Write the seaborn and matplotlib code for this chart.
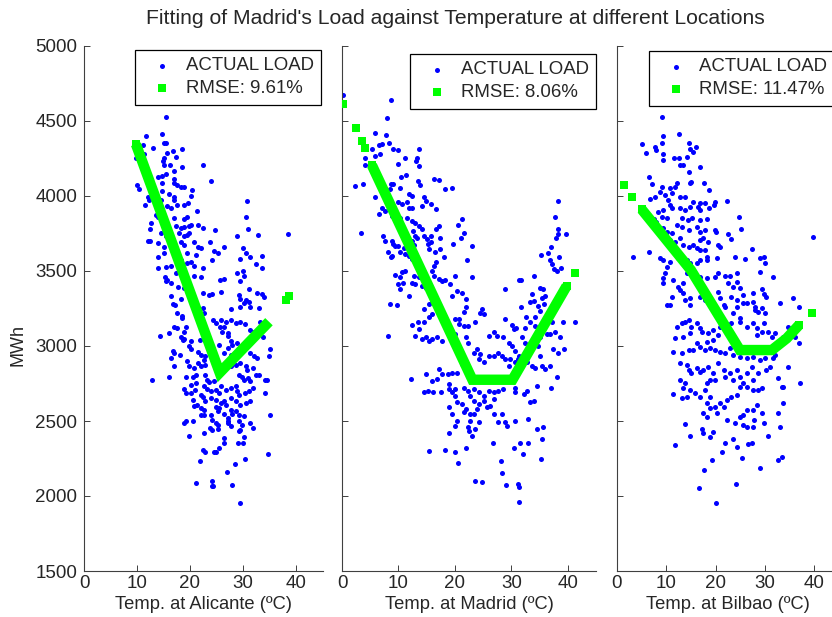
import numpy as np
import pandas as pd
import matplotlib
matplotlib.use("Agg")
import matplotlib.pyplot as plt
import seaborn as sns

# ---- data (temp in ºC, load in MWh) ----
alicante_temp = [
    15.4, 11.7, 14.7, 15.1, 15.4, 13.0, 11.2, 15.6, 16.8, 18.5, 15.1, 14.9, 17.3, 9.8, 11.4, 16.2,
    15.0, 18.5, 22.5, 16.9, 14.0, 14.7, 15.4, 23.9, 17.0, 16.9, 14.7, 17.5, 18.3, 18.9, 10.0, 10.4,
    20.3, 14.8, 16.0, 17.0, 20.2, 12.0, 12.3, 14.6, 17.0, 17.6, 18.9, 19.7, 11.5, 15.7, 16.5, 21.3,
    30.7, 13.5, 13.9, 17.0, 18.9, 19.5, 30.5, 12.6, 12.4, 17.3, 18.3, 18.9, 19.9, 20.2, 21.5, 22.4,
    24.7, 31.0, 38.4, 14.6, 15.4, 18.0, 18.9, 19.5, 19.9, 28.9, 32.8, 12.0, 12.4, 13.9, 15.1, 18.3,
    18.9, 20.7, 21.5, 22.1, 23.8, 26.5, 25.2, 24.5, 30.0, 30.5, 13.9, 15.1, 19.5, 21.1, 24.1, 29.4,
    31.4, 33.5, 18.3, 19.5, 20.2, 32.5, 33.5, 13.9, 15.4, 16.5, 22.4, 20.8, 15.3, 15.7, 15.4, 17.3,
    18.9, 20.8, 22.1, 25.7, 26.5, 28.9, 30.0, 30.2, 29.4, 16.5, 17.8, 18.9, 22.4, 24.1, 23.6, 25.8,
    31.1, 32.7, 33.5, 34.0, 29.2, 29.5, 30.2, 29.5, 16.4, 18.3, 30.6, 31.1, 31.4, 16.7, 17.1, 33.0,
    27.7, 22.4, 22.6, 17.6, 18.4, 18.4, 17.0, 17.6, 19.2, 18.9, 24.4, 24.9, 25.8, 26.8, 26.5, 27.7,
    28.6, 29.5, 30.4, 25.6, 26.1, 27.1, 27.1, 31.4, 32.1, 33.2, 34.0, 14.4, 16.0, 18.3, 18.6, 18.9,
    20.2, 19.9, 20.1, 21.8, 27.7, 28.0, 28.9, 33.7, 25.5, 16.7, 17.0, 16.5, 18.1, 21.5, 22.1, 22.9,
    27.1, 26.5, 27.7, 28.9, 29.9, 31.4, 32.1, 32.7, 35.0, 34.9, 16.9, 19.5, 19.9, 20.8, 21.5, 22.0,
    22.7, 22.9, 27.7, 28.6, 29.5, 30.5, 30.8, 31.8, 32.4, 33.0, 12.8, 16.0, 19.2, 20.5, 21.1, 22.9,
    23.3, 23.6, 24.5, 29.2, 29.9, 30.2, 31.0, 31.4, 34.2, 34.5, 20.2, 21.1, 18.9, 19.2, 20.2, 20.9,
    22.6, 23.3, 23.9, 24.9, 25.5, 25.8, 26.8, 27.7, 28.6, 28.9, 29.2, 30.3, 31.1, 31.8, 34.2, 22.1,
    22.4, 22.9, 23.9, 24.9, 25.8, 26.5, 27.7, 28.6, 29.5, 30.5, 31.4, 20.5, 20.8, 21.3, 22.1, 22.6,
    24.9, 25.5, 25.2, 26.8, 27.7, 28.0, 28.6, 22.1, 22.6, 18.9, 19.2, 20.5, 23.9, 24.2, 26.5, 27.1,
    29.2, 30.2, 35.0, 24.9, 25.2, 27.1, 27.2, 27.7, 29.2, 29.9, 31.4, 31.8, 23.8, 24.2, 25.2, 29.2,
    29.5, 22.6, 19.9, 26.5, 26.5, 25.5, 24.9, 30.2, 30.0, 29.0, 22.4, 22.8, 24.5, 34.7, 21.9, 30.4,
    28.5, 27.0, 21.1, 24.2, 24.1, 24.4, 27.9, 29.5,
]
alicante_load = [
    4525, 4402, 4416, 4351, 4351, 4318, 4340, 4285, 4300, 4311, 4252, 4236, 4258, 4252, 4280, 4207,
    4207, 4196, 4207, 4169, 4125, 4134, 4147, 4103, 4114, 4085, 4089, 4074, 4063, 4058, 4074, 4047,
    4040, 4036, 4012, 3992, 4000, 3992, 3974, 3974, 3974, 3940, 3938, 3952, 3940, 3934, 3918, 3903,
    3969, 3874, 3863, 3852, 3847, 3858, 3858, 3818, 3779, 3801, 3785, 3796, 3801, 3805, 3805, 3785,
    3774, 3779, 3747, 3756, 3730, 3752, 3730, 3741, 3756, 3730, 3741, 3703, 3703, 3685, 3663, 3690,
    3674, 3690, 3663, 3652, 3690, 3663, 3619, 3630, 3652, 3623, 3596, 3619, 3619, 3608, 3574, 3578,
    3596, 3603, 3570, 3552, 3563, 3548, 3519, 3523, 3526, 3530, 3523, 3530, 3463, 3441, 3430, 3486,
    3474, 3468, 3463, 3441, 3446, 3486, 3497, 3468, 3430, 3419, 3396, 3385, 3352, 3346, 3337, 3363,
    3379, 3352, 3348, 3326, 3341, 3312, 3286, 3259, 3330, 3314, 3308, 3290, 3262, 3279, 3270, 3252,
    3246, 3252, 3219, 3219, 3197, 3185, 3129, 3118, 3129, 3096, 3174, 3153, 3174, 3163, 3129, 3170,
    3153, 3157, 3148, 3129, 3096, 3086, 3064, 3108, 3092, 3158, 3129, 3064, 3086, 3059, 3042, 3046,
    3030, 2997, 2982, 3042, 3030, 3008, 3019, 3059, 3008, 2964, 2952, 2919, 2939, 2959, 2942, 2931,
    2986, 2953, 2942, 2953, 2970, 2953, 2931, 2919, 2979, 2931, 2868, 2897, 2864, 2853, 2886, 2864,
    2908, 2875, 2864, 2875, 2886, 2864, 2842, 2853, 2809, 2809, 2771, 2793, 2796, 2796, 2807, 2807,
    2775, 2758, 2764, 2809, 2796, 2775, 2786, 2764, 2771, 2775, 2742, 2753, 2713, 2686, 2686, 2707,
    2731, 2713, 2697, 2707, 2686, 2731, 2707, 2720, 2731, 2697, 2675, 2686, 2697, 2720, 2686, 2675,
    2660, 2631, 2653, 2642, 2620, 2631, 2653, 2631, 2609, 2620, 2631, 2642, 2598, 2609, 2586, 2575,
    2596, 2586, 2564, 2607, 2575, 2547, 2564, 2540, 2540, 2485, 2497, 2497, 2540, 2508, 2547, 2519,
    2540, 2535, 2540, 2489, 2475, 2502, 2485, 2464, 2497, 2475, 2485, 2453, 2451, 2440, 2447, 2431,
    2442, 2418, 2400, 2385, 2351, 2318, 2296, 2393, 2351, 2351, 2307, 2296, 2296, 2282, 2233, 2247,
    2211, 2158, 2087, 2098, 2069, 2065, 2076, 1954,
]

madrid_temp = [
    0.2, 8.7, 8.0, 5.8, 7.8, 7.1, 8.4, 9.1, 9.9, 5.3, 6.5, 4.1, 4.1, 13.7, 11.1, 13.3,
    13.1, 5.9, 6.8, 9.9, 13.7, 2.3, 3.7, 8.7, 9.1, 10.5, 11.4, 13.4, 13.9, 16.3, 17.2, 18.2,
    19.5, 10.2, 8.5, 11.8, 12.4, 11.5, 10.6, 10.0, 5.8, 14.5, 14.8, 14.2, 15.8, 16.6, 7.1, 6.5,
    7.6, 8.8, 9.4, 10.2, 11.5, 12.4, 13.0, 11.8, 12.4, 21.2, 20.5, 17.2, 16.6, 13.6, 14.2, 14.5,
    15.1, 15.2, 15.5, 12.5, 13.0, 13.3, 12.4, 12.7, 15.8, 17.4, 15.7, 21.6, 21.0, 19.6, 3.4, 7.3,
    7.6, 8.8, 9.1, 9.4, 10.0, 8.2, 8.7, 8.8, 10.3, 10.9, 11.2, 11.8, 12.4, 23.0, 22.1, 16.4,
    17.4, 18.0, 16.6, 16.3, 11.1, 10.6, 9.4, 10.3, 10.8, 10.0, 10.3, 12.7, 13.0, 13.6, 12.4, 16.0,
    16.3, 17.2, 17.7, 18.3, 19.2, 20.1, 23.0, 14.2, 14.8, 19.5, 20.4, 21.2, 22.0, 8.5, 9.7, 11.8,
    14.5, 15.4, 16.0, 21.9, 21.6, 20.8, 20.1, 20.7, 15.4, 16.0, 14.5, 24.8, 25.1, 24.5, 23.6, 21.6,
    22.4, 12.4, 13.4, 13.6, 13.0, 8.2, 14.2, 14.8, 15.5, 16.0, 16.9, 17.7, 19.2, 20.1, 22.0, 22.4,
    28.8, 31.8, 31.3, 34.1, 35.3, 35.0, 35.6, 36.5, 37.0, 36.9, 37.2, 37.9, 38.2, 39.7, 38.2, 37.8,
    38.2, 37.6, 38.1, 38.8, 38.5, 28.8, 33.6, 33.3, 34.1, 34.8, 35.4, 36.0, 35.7, 31.7, 32.6, 34.2,
    35.1, 30.2, 30.4, 30.8, 32.4, 33.3, 34.2, 35.4, 36.3, 37.2, 39.1, 41.3, 36.8, 37.8, 38.7, 39.3,
    38.2, 37.3, 36.8, 38.1, 37.0, 35.1, 34.8, 32.4, 33.0, 33.9, 35.1, 36.0, 35.4, 31.9, 31.1, 32.7,
    33.6, 34.2, 26.0, 26.9, 27.4, 28.6, 29.5, 30.1, 30.7, 31.3, 30.7, 26.0, 26.9, 27.7, 28.3, 28.9,
    29.8, 29.5, 23.9, 24.5, 23.3, 24.2, 25.1, 21.3, 21.9, 20.4, 19.5, 18.8, 17.2, 17.7, 16.9, 16.0,
    14.8, 12.2, 14.6, 15.2, 16.1, 17.6, 18.9, 19.0, 19.5, 20.1, 21.6, 22.4, 23.3, 24.2, 25.1, 26.0,
    26.9, 27.7, 28.6, 30.7, 30.7, 32.7, 32.3, 34.5, 33.3, 34.1, 20.1, 20.4, 21.3, 21.9, 21.6, 19.0,
    19.5, 20.4, 20.1, 22.7, 23.3, 24.2, 23.9, 25.1, 25.7, 26.3, 26.9, 22.7, 23.3, 22.7, 22.4, 24.2,
    23.6, 23.0, 22.5, 26.9, 28.4, 27.7, 28.9, 29.2, 30.6, 19.0, 33.0, 34.5, 35.6, 35.4, 22.0, 15.5,
    18.3, 20.1, 20.5, 26.7, 30.4, 31.5, 32.1, 32.9, 35.3, 28.2, 28.4, 23.6, 24.8, 29.1, 31.2, 31.3,
    31.3,
]
madrid_load = [
    4675, 4641, 4523, 4417, 4408, 4345, 4356, 4316, 4305, 4316, 4338, 4256, 4205, 4312, 4250, 4250,
    4234, 4268, 4279, 4212, 4201, 4068, 4083, 4083, 4083, 4128, 4139, 4101, 4072, 4116, 4105, 4045,
    4056, 4056, 4045, 4012, 4001, 3957, 3945, 3957, 3990, 3990, 3968, 3934, 3945, 3912, 3923, 3879,
    3901, 3868, 3885, 3856, 3856, 3834, 3823, 3923, 3917, 3845, 3805, 3801, 3779, 3801, 3779, 3734,
    3712, 3679, 3646, 3768, 3734, 3723, 3701, 3672, 3734, 3723, 3690, 3756, 3723, 3679, 3752, 3734,
    3701, 3701, 3679, 3668, 3668, 3628, 3590, 3601, 3624, 3650, 3612, 3601, 3579, 3668, 3574, 3624,
    3646, 3594, 3557, 3534, 3501, 3490, 3472, 3457, 3423, 3412, 3383, 3468, 3412, 3457, 3423, 3501,
    3468, 3446, 3434, 3441, 3412, 3468, 3457, 3401, 3385, 3334, 3368, 3352, 3312, 3279, 3272, 3334,
    3245, 3279, 3290, 3257, 3228, 3183, 3179, 3146, 3190, 3212, 3157, 3245, 3212, 3219, 3157, 3134,
    3130, 3139, 3157, 3112, 3068, 3068, 3046, 3057, 3035, 3046, 3057, 3030, 3068, 3079, 3057, 3023,
    3179, 3441, 3441, 3468, 3608, 3386, 3379, 3623, 3657, 3574, 3546, 3723, 3746, 3746, 3779, 3863,
    3968, 3512, 3501, 3523, 3590, 3383, 3345, 3290, 3301, 3268, 3317, 3334, 3279, 3257, 3190, 3190,
    3234, 3141, 3112, 3123, 3123, 3157, 3134, 3123, 3079, 3157, 3157, 3157, 3079, 3090, 3057, 2983,
    2956, 2983, 2868, 2790, 2723, 3057, 3001, 3023, 2990, 3035, 2934, 2845, 2868, 3057, 2912, 2890,
    2868, 2850, 3068, 3090, 3068, 3057, 3023, 3001, 2968, 2934, 2890, 2934, 2934, 2956, 2934, 2912,
    2912, 2868, 2979, 2945, 2956, 2912, 2890, 2879, 2845, 2823, 2823, 2812, 2845, 2812, 2779, 2768,
    2812, 2779, 2690, 2701, 2690, 2690, 2746, 2712, 2690, 2712, 2723, 2701, 2712, 2690, 2668, 2701,
    2690, 2701, 2712, 2690, 2723, 2701, 2679, 2734, 2624, 2630, 2668, 2624, 2612, 2579, 2557, 2590,
    2545, 2501, 2468, 2668, 2634, 2612, 2579, 2634, 2590, 2601, 2645, 2545, 2545, 2501, 2457, 2490,
    2446, 2401, 2434, 2545, 2545, 2490, 2490, 2468, 2501, 2419, 2512, 2446, 2457, 2383, 2319, 2301,
    2308, 2290, 2217, 2352, 2319, 2352, 2279, 2352, 2245, 2234, 2152, 2101, 2090, 2072, 2079, 2061,
    1957,
]

bilbao_temp = [
    9.1, 12.6, 9.3, 5.1, 7.7, 8.0, 9.1, 14.6, 14.7, 16.0, 15.5, 5.8, 9.3, 11.6, 12.6, 14.1,
    9.3, 12.8, 13.3, 14.5, 16.8, 6.4, 7.0, 12.1, 11.8, 14.7, 15.1, 17.7, 9.1, 10.7, 11.1, 9.7,
    8.8, 18.7, 7.7, 6.7, 12.8, 13.8, 15.5, 16.8, 17.8, 19.9, 22.2, 10.4, 10.7, 11.1, 9.4, 8.4,
    9.1, 10.1, 12.8, 13.8, 14.8, 16.5, 16.8, 18.7, 19.7, 7.4, 8.0, 13.1, 14.3, 15.3, 16.8, 18.2,
    24.8, 12.1, 13.1, 14.5, 16.2, 16.8, 17.8, 19.9, 20.1, 25.1, 9.4, 10.1, 11.1, 6.4, 3.2, 9.7,
    10.7, 11.8, 12.8, 13.4, 14.5, 15.5, 16.8, 17.5, 18.5, 16.2, 16.8, 17.8, 18.2, 22.4, 23.2, 20.5,
    20.9, 27.4, 29.7, 30.0, 29.0, 31.7, 33.0, 30.3, 39.7, 8.7, 9.4, 10.7, 10.1, 12.4, 14.1, 14.8,
    16.2, 16.8, 18.2, 20.3, 24.0, 25.9, 29.0, 9.7, 9.4, 9.3, 11.4, 12.4, 13.4, 12.8, 14.1, 15.5,
    16.8, 18.2, 19.9, 20.5, 21.9, 22.9, 24.3, 24.3, 24.9, 22.6, 23.6, 25.6, 27.6, 29.3, 29.7, 10.1,
    10.7, 11.1, 13.4, 13.8, 14.8, 14.8, 16.8, 17.8, 18.9, 20.5, 20.9, 21.6, 21.9, 23.2, 24.3, 24.3,
    25.6, 26.3, 27.6, 27.9, 28.6, 29.3, 30.0, 27.9, 35.7, 36.8, 12.1, 13.1, 13.8, 14.5, 15.1, 16.2,
    16.8, 14.8, 13.4, 11.8, 17.2, 18.5, 19.5, 20.5, 19.5, 18.2, 20.9, 22.2, 23.2, 24.9, 26.3, 27.6,
    28.3, 29.3, 29.7, 28.3, 23.6, 24.9, 30.7, 31.4, 32.0, 33.6, 34.7, 36.0, 36.8, 37.1, 34.7, 32.7,
    33.7, 11.4, 13.1, 14.5, 15.5, 16.2, 16.8, 17.8, 18.9, 19.9, 20.9, 21.9, 22.9, 23.6, 24.9, 26.3,
    27.6, 29.0, 30.0, 31.7, 32.0, 12.8, 14.1, 14.5, 15.1, 16.2, 16.8, 17.5, 18.5, 19.5, 18.9, 18.2,
    19.9, 20.5, 21.6, 21.9, 22.9, 23.6, 24.3, 24.9, 25.6, 26.3, 27.3, 27.6, 28.6, 30.3, 31.0, 12.8,
    13.8, 13.4, 14.8, 15.8, 16.8, 14.1, 13.1, 11.3, 17.8, 18.9, 18.2, 18.9, 19.9, 20.9, 22.2, 23.2,
    24.3, 24.9, 26.3, 27.6, 28.6, 29.3, 33.4, 33.7, 32.7, 17.5, 18.2, 20.2, 21.6, 22.2, 23.9, 24.9,
    25.6, 26.3, 27.6, 28.3, 29.3, 13.8, 14.7, 17.2, 17.5, 18.9, 19.5, 21.9, 23.6, 24.3, 25.6, 26.3,
    27.3, 27.8, 27.6, 29.7, 33.0, 16.6, 24.1, 25.4, 32.7, 33.5, 19.3, 17.6, 29.0, 11.8, 21.3, 26.6,
    30.6, 20.0,
]
bilbao_load = [
    4524, 4413, 4400, 4345, 4324, 4307, 4356, 4351, 4311, 4324, 4296, 4284, 4280, 4256, 4256, 4262,
    4240, 4207, 4207, 4163, 4196, 4125, 4078, 4085, 4063, 4085, 4096, 4085, 4063, 4051, 4018, 4007,
    4029, 4040, 3996, 3978, 3996, 3996, 3963, 3951, 3951, 3963, 3969, 3974, 3940, 3918, 3907, 3896,
    3863, 3852, 3918, 3907, 3929, 3929, 3907, 3918, 3940, 3845, 3829, 3852, 3840, 3852, 3840, 3845,
    3858, 3807, 3796, 3774, 3796, 3763, 3774, 3774, 3763, 3780, 3785, 3763, 3751, 3629, 3591, 3740,
    3707, 3696, 3718, 3674, 3663, 3674, 3707, 3718, 3696, 3651, 3640, 3640, 3596, 3745, 3711, 3674,
    3663, 3649, 3596, 3552, 3496, 3463, 3285, 3329, 3725, 3585, 3574, 3563, 3529, 3585, 3574, 3552,
    3552, 3574, 3574, 3585, 3596, 3578, 3589, 3485, 3452, 3418, 3441, 3396, 3418, 3374, 3485, 3474,
    3463, 3452, 3463, 3485, 3467, 3467, 3485, 3429, 3385, 3418, 3396, 3340, 3351, 3378, 3347, 3274,
    3274, 3329, 3351, 3307, 3318, 3274, 3329, 3307, 3318, 3363, 3318, 3274, 3263, 3329, 3307, 3263,
    3285, 3285, 3296, 3240, 3229, 3251, 3218, 3263, 3318, 3263, 3129, 3152, 3163, 3174, 3129, 3152,
    3118, 3085, 3063, 3052, 3096, 3085, 3107, 3074, 3041, 3029, 3129, 3140, 3152, 3163, 3129, 3152,
    3118, 3096, 3152, 3074, 3218, 3185, 3096, 3063, 3085, 3063, 3129, 3063, 3018, 2752, 2863, 2785,
    2729, 2963, 2952, 2974, 2974, 3018, 2996, 2974, 2985, 2974, 2963, 2952, 2985, 2941, 2929, 2918,
    2929, 2907, 2918, 2918, 2941, 2885, 2874, 2841, 2818, 2852, 2829, 2841, 2863, 2818, 2774, 2752,
    2774, 2885, 2841, 2796, 2818, 2774, 2841, 2796, 2752, 2818, 2863, 2774, 2818, 2841, 2863, 2774,
    2752, 2718, 2707, 2685, 2663, 2663, 2652, 2681, 2707, 2663, 2618, 2585, 2596, 2618, 2641, 2663,
    2674, 2729, 2729, 2707, 2707, 2718, 2729, 2618, 2552, 2552, 2529, 2552, 2596, 2507, 2485, 2529,
    2540, 2574, 2574, 2607, 2552, 2480, 2401, 2445, 2423, 2396, 2429, 2352, 2378, 2329, 2474, 2463,
    2352, 2507, 2463, 2485, 2458, 2053, 2080, 2253, 2240, 2260, 2240, 2173, 2187, 2340, 2293, 2347,
    2400, 1953,
]

# piecewise fit (green): connected part and the isolated squares at the ends
alicante_fit_temp = [9.8, 25.6, 34.9]
alicante_fit_load = [4345, 2822, 3162]
alicante_end_temp = [9.8, 10.4, 38.2, 38.6]
alicante_end_load = [4345, 4300, 3305, 3330]

madrid_fit_temp = [5.3, 23.1, 30.2, 39.8]
madrid_fit_load = [4205, 2775, 2775, 3400]
madrid_end_temp = [0.2, 2.4, 3.5, 4.1, 5.3, 39.8, 41.3]
madrid_end_load = [4612, 4452, 4368, 4317, 4205, 3400, 3485]

bilbao_fit_temp = [5.0, 15.0, 24.9, 31.4, 34.4, 36.9]
bilbao_fit_load = [3911, 3505, 2973, 2973, 3051, 3140]
bilbao_end_temp = [1.5, 3.1, 5.0, 36.9, 39.5]
bilbao_end_load = [4073, 3996, 3911, 3140, 3218]

panels = [
    ("Alicante", alicante_temp, alicante_load, alicante_fit_temp, alicante_fit_load,
     alicante_end_temp, alicante_end_load, "9.61"),
    ("Madrid", madrid_temp, madrid_load, madrid_fit_temp, madrid_fit_load,
     madrid_end_temp, madrid_end_load, "8.06"),
    ("Bilbao", bilbao_temp, bilbao_load, bilbao_fit_temp, bilbao_fit_load,
     bilbao_end_temp, bilbao_end_load, "11.47"),
]

sns.set_style("white")
plt.rcParams['font.family'] = ['Liberation Sans', 'DejaVu Sans']
plt.rcParams['axes.unicode_minus'] = False

W, H = 832, 617
fig = plt.figure(figsize=(W / 100, H / 100), dpi=100)

# axes boxes in pixels (left, width) -- the third one runs off the right edge
boxes = [(84, 238.5), (342, 254), (617, 222)]
legend_anchor = [((321 - 84) / 238.5, 1 - 4 / 525, "upper right"),
                 ((596 - 342) / 254, 1 - 8 / 525, "upper right"),
                 ((649 - 617) / 222, 1 - 5 / 525, "upper left")]

for i, (name, t, l, ft, fl, et, el, rmse) in enumerate(panels):
    left, width = boxes[i]
    ax = fig.add_axes([left / W, 46 / H, width / W, 525 / H])
    df = pd.DataFrame({"temp": t, "load": l})
    sns.scatterplot(data=df, x="temp", y="load", ax=ax, color="#0000ff", s=13,
                    linewidth=0, label="ACTUAL LOAD", zorder=2)
    ax.plot(ft, fl, color="#00ff00", linewidth=7.5, solid_joinstyle="miter",
            solid_capstyle="butt", zorder=3)
    sns.scatterplot(x=et, y=el, ax=ax, color="#00ff00", marker="s", s=40,
                    linewidth=0, label=f"RMSE: {rmse}%", zorder=4)

    ax.set_xlim(0, 45)
    ax.set_ylim(1500, 5000)
    ax.set_xticks([0, 10, 20, 30, 40])
    ax.set_yticks(np.arange(1500, 5001, 500))
    for side in ("top", "right"):
        ax.spines[side].set_visible(False)
    for side in ("left", "bottom"):
        ax.spines[side].set_color("#404040")
        ax.spines[side].set_linewidth(0.8)
    ax.tick_params(direction="in", length=4, width=0.7, color="#404040",
                   labelsize=13.5, left=True, bottom=True)
    ax.tick_params(axis="x", pad=3)
    ax.tick_params(axis="y", pad=5)
    if i > 0:
        ax.tick_params(labelleft=False)
    ax.set_xlabel(f"Temp. at {name} (ºC)", fontsize=13.2, labelpad=3)
    ax.set_ylabel("")

    ax_x, ax_y, loc = legend_anchor[i]
    leg = ax.legend(loc=loc, bbox_to_anchor=(ax_x, ax_y), borderaxespad=0, fontsize=13.4,
                    frameon=True, fancybox=False, framealpha=1, edgecolor="black",
                    handlelength=2.1, handletextpad=0.2, borderpad=0.4,
                    labelspacing=0.3, markerscale=1.0)
    leg.get_frame().set_linewidth(0.9)

fig.text(18 / W, 1 - 345 / H, "MWh", rotation=90, fontsize=13, ha="center", va="center")
fig.text(455 / W, 1 - 18 / H, "Fitting of Madrid's Load against Temperature at different Locations",
         fontsize=15.2, ha="center", va="center")

fig.savefig("out.png", dpi=100)
